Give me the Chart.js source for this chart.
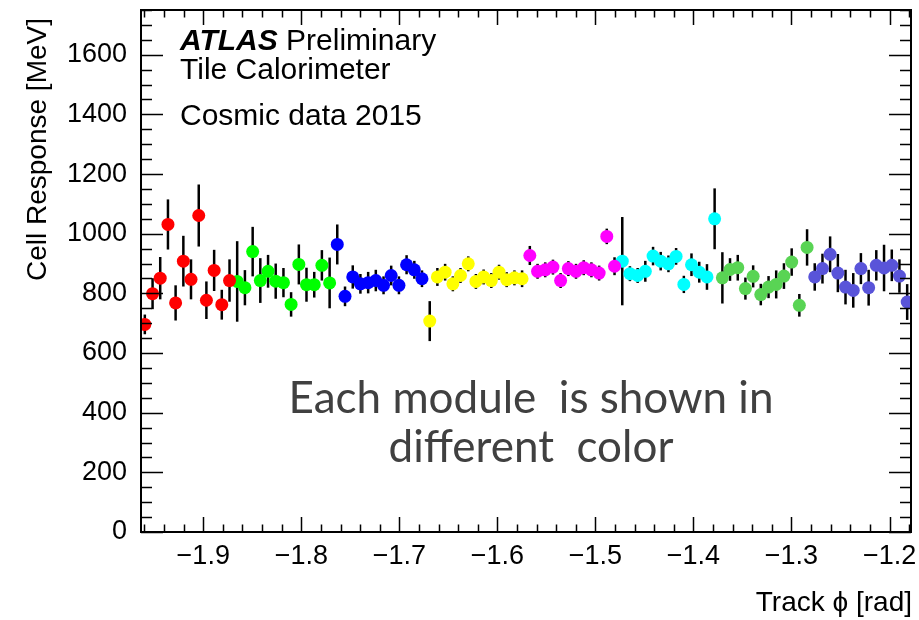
<!DOCTYPE html>
<html>
<head>
<meta charset="utf-8">
<script src="https://cdn.jsdelivr.net/npm/chart.js@4.4.1/dist/chart.umd.min.js"></script>
<style>
  html, body { margin: 0; padding: 0; background: #fff; }
  #wrap { position: relative; width: 919px; height: 620px; }
</style>
</head>
<body>
<div id="wrap"><canvas id="phiChart"></canvas></div>
<script>
// track phi bin centres [rad]
const phi = [
  -1.9596, -1.9517, -1.9439, -1.9360, -1.9282, -1.9203, -1.9125, -1.9046, -1.8968, -1.8889,
  -1.8811, -1.8732, -1.8654, -1.8575, -1.8496, -1.8418, -1.8339, -1.8261, -1.8182, -1.8104,
  -1.8025, -1.7947, -1.7868, -1.7790, -1.7711, -1.7633, -1.7554, -1.7475, -1.7397, -1.7318,
  -1.7240, -1.7161, -1.7083, -1.7004, -1.6926, -1.6847, -1.6769, -1.6690, -1.6612, -1.6533,
  -1.6454, -1.6376, -1.6297, -1.6219, -1.6140, -1.6062, -1.5983, -1.5905, -1.5826, -1.5748,
  -1.5669, -1.5590, -1.5512, -1.5433, -1.5355, -1.5276, -1.5198, -1.5119, -1.5041, -1.4962,
  -1.4884, -1.4805, -1.4726, -1.4648, -1.4569, -1.4491, -1.4412, -1.4334, -1.4255, -1.4177,
  -1.4098, -1.4020, -1.3941, -1.3862, -1.3784, -1.3705, -1.3627, -1.3548, -1.3470, -1.3391,
  -1.3313, -1.3234, -1.3156, -1.3077, -1.2998, -1.2920, -1.2841, -1.2763, -1.2684, -1.2606,
  -1.2527, -1.2449, -1.2370, -1.2292, -1.2213, -1.2135, -1.2056, -1.1977, -1.1899, -1.1820
];

// cell response [MeV]
const response = [
  696, 799, 851, 1031, 768, 908, 847, 1061, 777, 877, 762, 843,
  840, 819, 940, 843, 874, 841, 836, 763, 897, 829, 829, 894, 835,
  964, 790, 855, 832, 836, 843, 827, 860, 827, 896, 879, 849,
  707, 855, 871, 832, 860, 899, 840, 855, 843, 871, 846, 852, 849,
  927, 874, 879, 888, 843, 883, 874, 886, 879, 868, 991, 891,
  908, 866, 860, 874, 925, 908, 899, 924, 830, 896, 871, 855, 1050,
  852, 880, 886, 816, 857, 796, 821, 830, 858, 905, 760, 954,
  855, 883, 931, 868, 821, 810, 883, 819, 894, 885, 894, 858, 771
];

const responseErr = [
  33, 52, 71, 84, 59, 85, 67, 104, 63, 69, 50, 71,
  135, 59, 83, 75, 55, 59, 49, 41, 67, 57, 43, 51, 85,
  67, 33, 39, 33, 36, 36, 30, 33, 30, 32, 30, 28,
  67, 30, 28, 25, 25, 25, 25, 25, 25, 25, 25, 25, 28,
  32, 25, 25, 25, 25, 25, 25, 25, 25, 25, 26, 30,
  148, 25, 25, 35, 31, 31, 28, 28, 29, 38, 35, 43, 102,
  86, 38, 43, 37, 37, 36, 37, 47, 43, 46, 38, 61,
  46, 50, 60, 64, 58, 58, 52, 60, 51, 78, 53, 56, 60
];

// first bin of each module, and its colour
const moduleStart = [0, 12, 25, 37, 50, 62, 75, 87];
const moduleColors = ["#ff0000", "#00ff00", "#0000ff", "#ffff00", "#ff00ff", "#00ffff", "#59d454", "#5954d9"];

const xTicks = [-1.9, -1.8, -1.7, -1.6, -1.5, -1.4, -1.3, -1.2];
const yTicks = [0, 200, 400, 600, 800, 1000, 1200, 1400, 1600];

const FONT = "'Liberation Sans', Arial, Helvetica, sans-serif";

const datasets = moduleStart.map((start, m) => {
  const end = m + 1 < moduleStart.length ? moduleStart[m + 1] : phi.length;
  const pts = [];
  for (let i = start; i < end; i++) {
    pts.push({ x: phi[i], y: response[i], err: responseErr[i] });
  }
  return {
    data: pts,
    backgroundColor: moduleColors[m],
    borderWidth: 0,
    pointRadius: 6.5,
    pointHoverRadius: 6.5,
    showLine: false,
  };
});

// vertical error bars under the markers
const errorBars = {
  id: "errorBars",
  beforeDatasetsDraw(chart) {
    const { ctx, scales: { x, y } } = chart;
    ctx.save();
    ctx.strokeStyle = "#000";
    ctx.lineWidth = 2.5;
    chart.data.datasets.forEach(ds => {
      ds.data.forEach(p => {
        const px = x.getPixelForValue(p.x);
        ctx.beginPath();
        ctx.moveTo(px, y.getPixelForValue(p.y - p.err));
        ctx.lineTo(px, y.getPixelForValue(p.y + p.err));
        ctx.stroke();
      });
    });
    ctx.restore();
  }
};

// ROOT style frame with inner ticks on all four sides, plus the texts
const frame = {
  id: "frame",
  afterDraw(chart) {
    const { ctx, chartArea: a, scales: { x, y } } = chart;
    ctx.save();
    ctx.strokeStyle = "#000";
    ctx.lineWidth = 1.5;
    ctx.beginPath();
    for (let v = 0; v <= 1750; v += 50) {
      const py = Math.round(y.getPixelForValue(v)) + 0.5;
      const len = v % 200 === 0 ? 22 : 11;
      ctx.moveTo(a.left, py); ctx.lineTo(a.left + len, py);
      ctx.moveTo(a.right, py); ctx.lineTo(a.right - len, py);
    }
    for (let k = -98; k <= -59; k++) {
      const v = k * 0.02;
      const px = Math.round(x.getPixelForValue(v)) + 0.5;
      if (px < a.left || px > a.right) continue;
      const len = k % 5 === 0 ? 15 : 7.5;
      ctx.moveTo(px, a.bottom); ctx.lineTo(px, a.bottom - len);
      ctx.moveTo(px, a.top); ctx.lineTo(px, a.top + len);
    }
    ctx.stroke();
    ctx.lineWidth = 2;
    ctx.strokeRect(a.left, a.top, a.right - a.left, a.bottom - a.top);

    ctx.fillStyle = "#000";
    ctx.textAlign = "left";
    ctx.textBaseline = "alphabetic";
    ctx.font = "italic bold 30px " + FONT;
    ctx.fillText("ATLAS", 180, 50);
    const w = ctx.measureText("ATLAS ").width;
    ctx.font = "30px " + FONT;
    ctx.fillText("Preliminary", 180 + w, 50);
    ctx.fillText("Tile Calorimeter", 180, 79);
    ctx.fillText("Cosmic data 2015", 180, 125);

    ctx.font = "28px " + FONT;
    ctx.textAlign = "right";
    ctx.fillText("Track \u03d5 [rad]", 912, 611);
    ctx.save();
    ctx.translate(46, 18);
    ctx.rotate(-Math.PI / 2);
    ctx.fillText("Cell Response [MeV]", 0, 0);
    ctx.restore();

    ctx.fillStyle = "#404040";
    ctx.textAlign = "center";
    ctx.font = "44px Lato, 'Open Sans', sans-serif";
    ctx.fillText("Each module  is shown in", 531, 413);
    ctx.fillText("different  color", 531, 462);
    ctx.restore();
  }
};

new Chart(document.getElementById("phiChart"), {
  type: "scatter",
  data: { datasets },
  options: {
    responsive: true,
    maintainAspectRatio: false,
    animation: false,
    layout: { padding: { left: 0, right: 8, top: 10, bottom: 0 } },
    plugins: { legend: { display: false }, tooltip: { enabled: false } },
    scales: {
      x: {
        type: "linear",
        min: -1.9635,
        max: -1.1781,
        grid: { display: false },
        border: { display: false },
        afterBuildTicks: s => { s.ticks = xTicks.map(v => ({ value: v })); },
        afterFit: s => { s.height = 88; s.paddingLeft = 0; s.paddingRight = 0; },
        ticks: {
          color: "#000",
          padding: 0,
          maxRotation: 0,
          autoSkip: false,
          font: { family: FONT, size: 27 },
          callback: v => "\u2212" + Math.abs(v).toFixed(1),
        },
      },
      y: {
        min: 0,
        max: 1750,
        grid: { display: false },
        border: { display: false },
        afterBuildTicks: s => { s.ticks = yTicks.map(v => ({ value: v })); },
        afterFit: s => { s.width = 141; s.paddingTop = 0; s.paddingBottom = 0; },
        ticks: {
          color: "#000",
          padding: 6,
          font: { family: FONT, size: 27 },
          callback: v => String(v),
        },
      },
    },
  },
  plugins: [errorBars, frame],
});
</script>
</body>
</html>
